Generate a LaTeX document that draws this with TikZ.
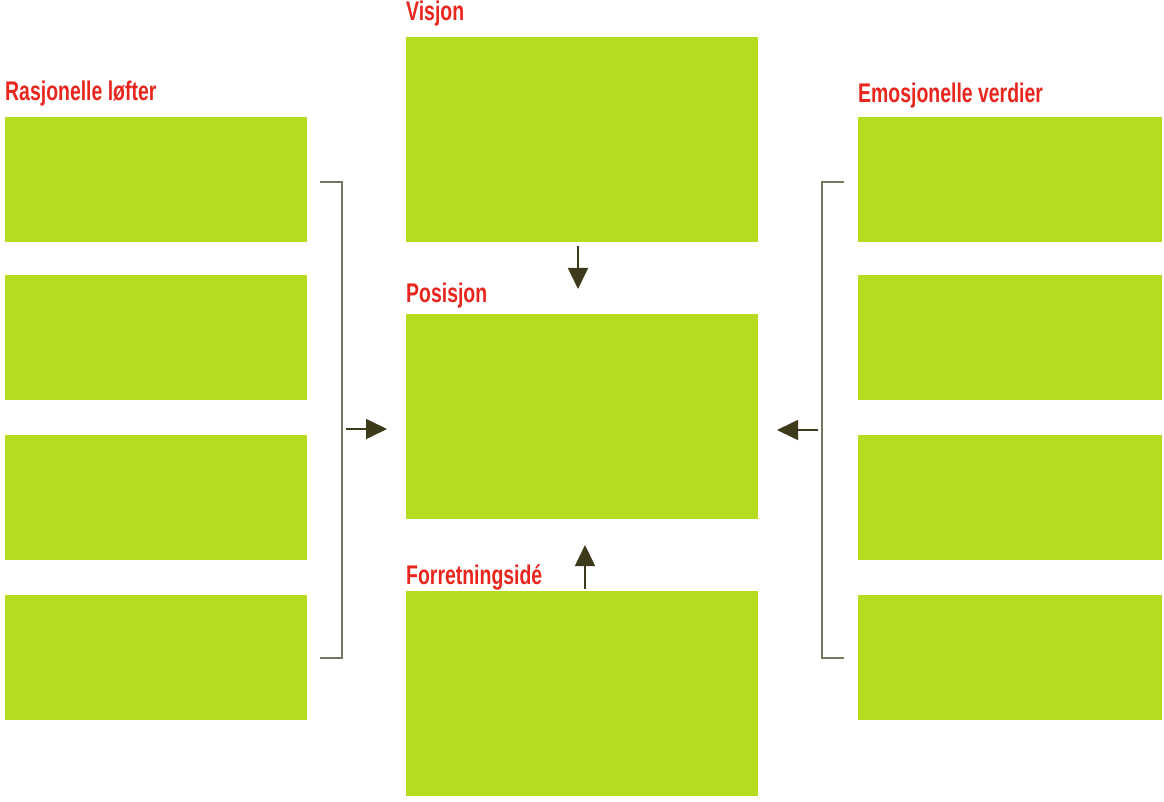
\documentclass[tikz,border=0pt]{standalone}
\usepackage{fontspec}
\setmainfont{Liberation Sans}[FakeStretch=0.72]
\usetikzlibrary{arrows.meta}
\definecolor{boxgreen}{HTML}{B5DC1F}
\definecolor{titlered}{HTML}{E8261E}
\definecolor{arrowdark}{HTML}{3D3A1C}
\definecolor{bracketgray}{HTML}{77765E}
\tikzset{
    gbox/.style={fill=boxgreen, draw=none, anchor=north west, inner sep=0pt},
    smallbox/.style={gbox, minimum width=302pt, minimum height=125pt},
    bigbox/.style={gbox, minimum width=352pt, minimum height=205pt},
    lbl/.style={anchor=base west, inner sep=0pt, text=titlered, font=\bfseries\fontsize{27}{32}\selectfont},
    bracket/.style={draw=bracketgray, line width=1.3pt},
    flow/.style={draw=arrowdark, line width=1.6pt, -{Triangle[length=21pt, width=20pt]}}
}
\begin{document}
\begin{tikzpicture}[x=1pt, y=-1pt]
        \useasboundingbox (0,0) rectangle (1164,802);

        % center column
        \node[bigbox] (V) at (406,37) {};
        \node[bigbox] (P) at (406,314) {};
        \node[bigbox] (F) at (406,591) {};
        \node[lbl] (Vl) at (406,21) {Visjon};
        \node[lbl] (Pl) at (406,302) {Posisjon};
        \node[lbl] (Fl) at (406,584) {Forretningsidé};

        % left column
        \node[smallbox] (L1) at (5,117) {};
        \node[smallbox] (L2) at (5,275) {};
        \node[smallbox] (L3) at (5,435) {};
        \node[smallbox] (L4) at (5,595) {};
        \node[lbl] (Ll) at (5,101) {Rasjonelle løfter};

        % right column
        \node[smallbox, minimum width=304pt] (R1) at (858,117) {};
        \node[smallbox, minimum width=304pt] (R2) at (858,275) {};
        \node[smallbox, minimum width=304pt] (R3) at (858,435) {};
        \node[smallbox, minimum width=304pt] (R4) at (858,595) {};
        \node[lbl] (Rl) at (858,103) {Emosjonelle verdier};

        % brackets
        \coordinate (LT) at (320,182);
        \coordinate (LB) at (320,658);
        \coordinate (RT) at (844,182);
        \coordinate (RB) at (844,658);
        \draw[bracket] (LT) -- (342,182) -- (342,658) -- (LB);
        \draw[bracket] (RT) -- (822,182) -- (822,658) -- (RB);

        % arrows
        \coordinate (la) at (346,429);
        \coordinate (lb) at (387,429);
        \coordinate (ra) at (818,430);
        \coordinate (rb) at (777,430);
        \coordinate (va) at (578,246);
        \coordinate (vb) at (578,289);
        \coordinate (fa) at (585,589);
        \coordinate (fb) at (585,545);
        \draw[flow] (la) -- (lb);
        \draw[flow] (ra) -- (rb);
        \draw[flow] (va) -- (vb);
        \draw[flow] (fa) -- (fb);
    \end{tikzpicture}
\end{document}
